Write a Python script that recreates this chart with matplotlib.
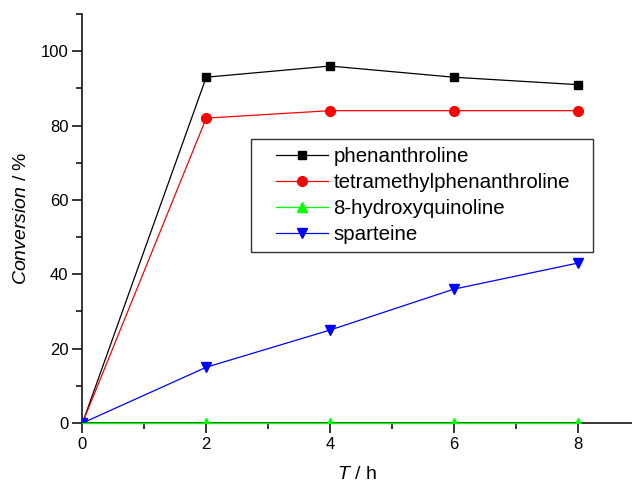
import matplotlib

matplotlib.use("Agg")
import matplotlib.pyplot as plt
from matplotlib.legend_handler import HandlerLine2D
from matplotlib.lines import Line2D
from matplotlib.ticker import MultipleLocator

# Conversion over time for each ligand.
T_H = [0, 2, 4, 6, 8]
PHEN = [0, 93, 96, 93, 91]
TMPHEN = [0, 82, 84, 84, 84]
HQ = [0, 0, 0, 0, 0]
SPART = [0, 15, 25, 36, 43]

SERIES = [
    ("phenanthroline", PHEN, "#000000", "s", 6),
    ("tetramethylphenanthroline", TMPHEN, "#ff0000", "o", 7),
    ("8-hydroxyquinoline", HQ, "#00ff00", "^", 7.5),
    ("sparteine", SPART, "#0000ff", "v", 7.5),
]

plt.rcParams.update(
    {
        "font.family": "Liberation Sans",
        "mathtext.fontset": "custom",
        "mathtext.rm": "Liberation Sans",
        "mathtext.it": "Liberation Sans:italic",
        "axes.linewidth": 1.1,
    }
)

fig = plt.figure(figsize=(6.32, 4.86), dpi=100)
ax = fig.add_axes([0.1305, 0.1296, 0.8695, 0.8416])

for name, vals, col, mk, ms in SERIES:
    ax.plot(T_H, vals, color=col, lw=0.9, marker=mk, markersize=ms,
            markerfacecolor=col, markeredgecolor=col, label=name, zorder=3)

# the zero series sits on the x axis; draw its line over the spine, unclipped
ax.plot(T_H, HQ, color="#00ff00", lw=1.0, clip_on=False, zorder=4)

ax.set_xlim(0, 8.88)
ax.set_ylim(0, 110)
ax.xaxis.set_major_locator(MultipleLocator(2))
ax.xaxis.set_minor_locator(MultipleLocator(1))
ax.yaxis.set_major_locator(MultipleLocator(20))
ax.yaxis.set_minor_locator(MultipleLocator(10))
ax.tick_params(which="major", direction="out", length=7, width=1.1, labelsize=12, pad=3)
ax.tick_params(which="minor", direction="out", length=4, width=1.1)
ax.spines[["top", "right"]].set_visible(False)

ax.set_xlabel(r"$\it{T}$ / h", fontsize=14, labelpad=10)
ax.set_ylabel(r"$\it{Conversion}$ / %", fontsize=14, labelpad=8)

leg = ax.legend(loc="upper left", bbox_to_anchor=(0.3066, 0.0, 0.6224, 0.694),
                mode="expand", fontsize=14.8, frameon=True, fancybox=False,
                borderpad=0.4, labelspacing=0.33, handlelength=3.33,
                handletextpad=0.29, borderaxespad=0,
                handler_map={Line2D: HandlerLine2D(xpad=0.81)})
leg.get_frame().set_edgecolor("black")
leg.get_frame().set_linewidth(1.0)

fig.savefig("out.png", dpi=100)
